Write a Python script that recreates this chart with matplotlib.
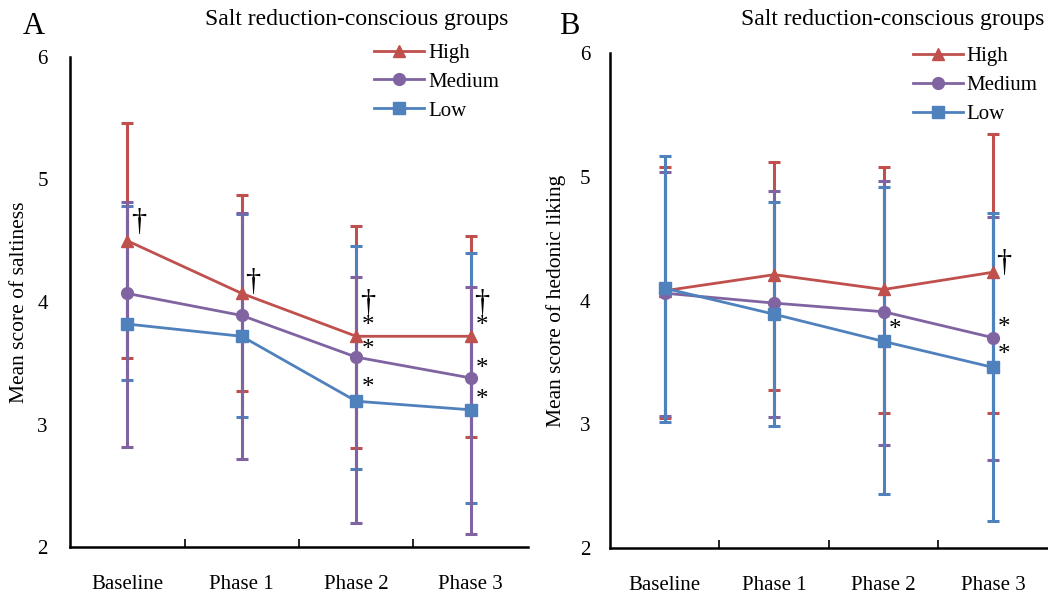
import matplotlib.pyplot as plt

plt.rcParams['font.family'] = ['Liberation Serif', 'DejaVu Serif']

phases = ['Baseline', 'Phase 1', 'Phase 2', 'Phase 3']
groups = ['High', 'Medium', 'Low']

# Panel A: saltiness
salt_mean = {
    'High': [4.50, 4.07, 3.72, 3.72],
    'Medium': [4.07, 3.89, 3.55, 3.38],
    'Low': [3.82, 3.72, 3.19, 3.12],
}
salt_low = {
    'High': [3.54, 3.27, 2.81, 2.90],
    'Medium': [2.82, 2.72, 2.20, 2.11],
    'Low': [3.36, 3.06, 2.64, 2.36],
}
salt_high = {
    'High': [5.46, 4.87, 4.62, 4.54],
    'Medium': [4.82, 4.73, 4.20, 4.12],
    'Low': [4.78, 4.72, 4.46, 4.40],
}

# Panel B: hedonic liking
like_mean = {
    'High': [4.08, 4.21, 4.09, 4.23],
    'Medium': [4.06, 3.98, 3.91, 3.70],
    'Low': [4.10, 3.89, 3.67, 3.46],
}
like_low = {
    'High': [3.05, 3.28, 3.09, 3.09],
    'Medium': [3.07, 3.06, 2.83, 2.71],
    'Low': [3.02, 2.99, 2.44, 2.22],
}
like_high = {
    'High': [5.08, 5.12, 5.08, 5.35],
    'Medium': [5.04, 4.89, 4.97, 4.68],
    'Low': [5.17, 4.80, 4.92, 4.71],
}

# significance marks: (group, phase index, symbol, offset above the mean)
salt_marks = [('High', 0, '†', 0.15), ('High', 1, '†', 0.09),
              ('High', 2, '†', 0.27), ('High', 3, '†', 0.27),
              ('High', 2, '*', 0.08), ('High', 3, '*', 0.08),
              ('Medium', 2, '*', 0.06), ('Medium', 3, '*', 0.07),
              ('Low', 2, '*', 0.11), ('Low', 3, '*', 0.08)]
like_marks = [('High', 3, '†', 0.07), ('Medium', 3, '*', 0.08),
              ('Low', 3, '*', 0.10), ('Low', 2, '*', 0.09)]

colors = {'High': '#C0504D', 'Medium': '#8064A2', 'Low': '#4F81BD'}
markers = {'High': '^', 'Medium': 'o', 'Low': 's'}
msize = {'High': 8.5, 'Medium': 8.5, 'Low': 9}

fig = plt.figure(figsize=(10.48, 5.94), dpi=100)
axA = fig.add_axes([0.0668, 0.0791, 0.437, 0.825])
axB = fig.add_axes([0.582, 0.0774, 0.418, 0.833])


def draw(ax, mean, lo, hi, bar_order, marks, ylabel, ypad, ylab_x, leg_xy):
    x = list(range(len(phases)))
    for k, g in enumerate(bar_order):
        yerr = [[m - l for m, l in zip(mean[g], lo[g])],
                [h - m for m, h in zip(mean[g], hi[g])]]
        ax.errorbar(x, mean[g], yerr=yerr, fmt='none', ecolor=colors[g],
                    elinewidth=2.2, capsize=4.5, capthick=2.2, zorder=2 + k)
    for k, g in enumerate(bar_order):
        ax.plot(x, mean[g], color=colors[g], lw=2, marker=markers[g],
                markersize=msize[g], zorder=6 + k, label=g)
    for g, i, s, dy in marks:
        if s == '†':
            ax.text(i + 0.1, mean[g][i] + dy, s, fontsize=22,
                    ha='center', va='center', zorder=10)
        else:
            ax.text(i + 0.1, mean[g][i] + dy, s, fontsize=18, ha='center',
                    va='center', zorder=10)
    ax.set_xlim(-0.5, 3.5)
    ax.set_ylim(2, 6)
    ax.set_yticks([2, 3, 4, 5, 6])
    ax.set_xticks([0.5, 1.5, 2.5])
    ax.set_xticklabels([])
    ax.set_xticks(x, minor=True)
    ax.set_xticklabels(phases, minor=True)
    ax.tick_params(axis='x', which='major', direction='in', length=6, width=1.2)
    ax.tick_params(axis='x', which='minor', length=0, pad=20, labelsize=15)
    ax.tick_params(axis='y', length=0, pad=ypad, labelsize=15)
    for s in ['top', 'right']:
        ax.spines[s].set_visible(False)
    for s in ['left', 'bottom']:
        ax.spines[s].set_linewidth(1.8)
    ax.set_ylabel(ylabel, fontsize=15.5)
    ax.yaxis.set_label_coords(ylab_x, 0.5)
    handles, labels = ax.get_legend_handles_labels()
    order = [labels.index(g) for g in groups]
    ax.legend([handles[i] for i in order], [labels[i] for i in order],
              loc='upper left', bbox_to_anchor=leg_xy, frameon=False,
              fontsize=15, handlelength=2.4, handletextpad=0.2, labelspacing=0.45,
              borderaxespad=0)


draw(axA, salt_mean, salt_low, salt_high, ['High', 'Low', 'Medium'], salt_marks,
     'Mean score of saltiness', 16, -0.09, (0.645, 1.045))
draw(axB, like_mean, like_low, like_high, ['High', 'Medium', 'Low'], like_marks,
     'Mean score of hedonic liking', 14, -0.10, (0.672, 1.03))

fig.text(0.032, 0.955, 'A', fontsize=22, ha='center', va='center')
fig.text(0.543, 0.955, 'B', fontsize=22, ha='center', va='center')
fig.text(0.340, 0.968, 'Salt reduction-conscious groups', fontsize=17, ha='center', va='center')
fig.text(0.852, 0.968, 'Salt reduction-conscious groups', fontsize=17, ha='center', va='center')

fig.savefig('out.png', dpi=100)
